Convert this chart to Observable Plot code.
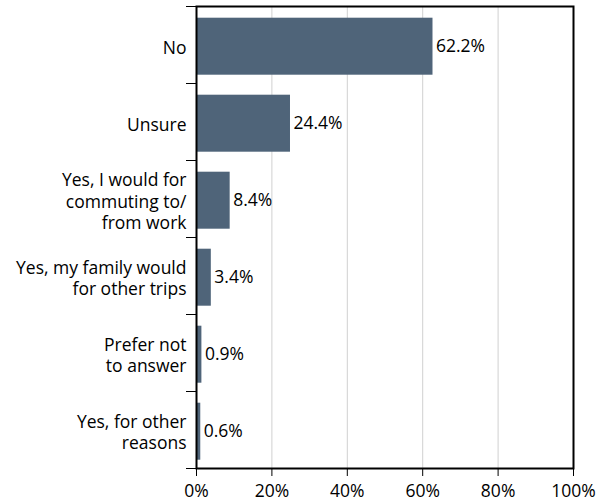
<!DOCTYPE html>
<html>
<head>
<meta charset="utf-8">
<script src="https://cdn.jsdelivr.net/npm/d3@7"></script>
<script src="https://cdn.jsdelivr.net/npm/@observablehq/plot@0.6"></script>
<style>
  html, body { margin: 0; padding: 0; background: #fff; }
  #chart svg { display: block; }
</style>
</head>
<body>
<div id="chart"></div>
<script>
const categories = [
  "No",
  "Unsure",
  "Yes, I would for\ncommuting to/\nfrom work",
  "Yes, my family would\nfor other trips",
  "Prefer not\nto answer",
  "Yes, for other\nreasons"
];
const values = [62.2, 24.4, 8.4, 3.4, 0.9, 0.6];
const xTicks = [0, 20, 40, 60, 80, 100];
const gridTicks = [20, 40, 60, 80];

const data = categories.map((c, i) => ({label: c, value: values[i]}));

const W = 602, H = 504;
const mT = 6, mB = 36, mL = 196, mR = 29;
const step = (H - mT - mB) / categories.length;
const font = "Open Sans, sans-serif";
const fs = 17.5;
const shift = 1.7;

const chart = Plot.plot({
  width: W,
  height: H,
  marginTop: mT,
  marginBottom: mB,
  marginLeft: mL,
  marginRight: mR,
  style: {fontFamily: font, fontSize: fs + "px", color: "#000", background: "#fff"},
  x: {domain: [0, 100]},
  y: {domain: categories, paddingInner: 0.26, paddingOuter: 0.13},
  marks: [
    Plot.gridX(gridTicks, {stroke: "#d0d0d0", strokeOpacity: 1}),
    Plot.barX(data, {x: "value", y: "label", fill: "#4f6479", insetRight: -2, dy: shift}),
    Plot.text(data, {x: "value", y: "label", text: d => d.value.toFixed(1) + "%", textAnchor: "start", dx: 5, dy: shift, fontSize: fs, fill: "#000"}),
    Plot.frame({stroke: "#000", strokeWidth: 2}),
    Plot.axisX({ticks: xTicks, tickFormat: d => d + "%", tickSize: 8, tickPadding: 8, fontSize: fs, stroke: "#000", label: null}),
    Plot.axisY({tickSize: 0, tickPadding: 10, fontSize: fs, lineHeight: 1.23, dy: shift, label: null}),
    Plot.axisY({tickSize: 10, tickFormat: () => "", dy: -step / 2, label: null, stroke: "#000"}),
    Plot.axisY({ticks: [categories[categories.length - 1]], tickSize: 10, tickFormat: () => "", dy: step / 2, label: null, stroke: "#000"})
  ]
});
document.getElementById("chart").appendChild(chart);
</script>
</body>
</html>
